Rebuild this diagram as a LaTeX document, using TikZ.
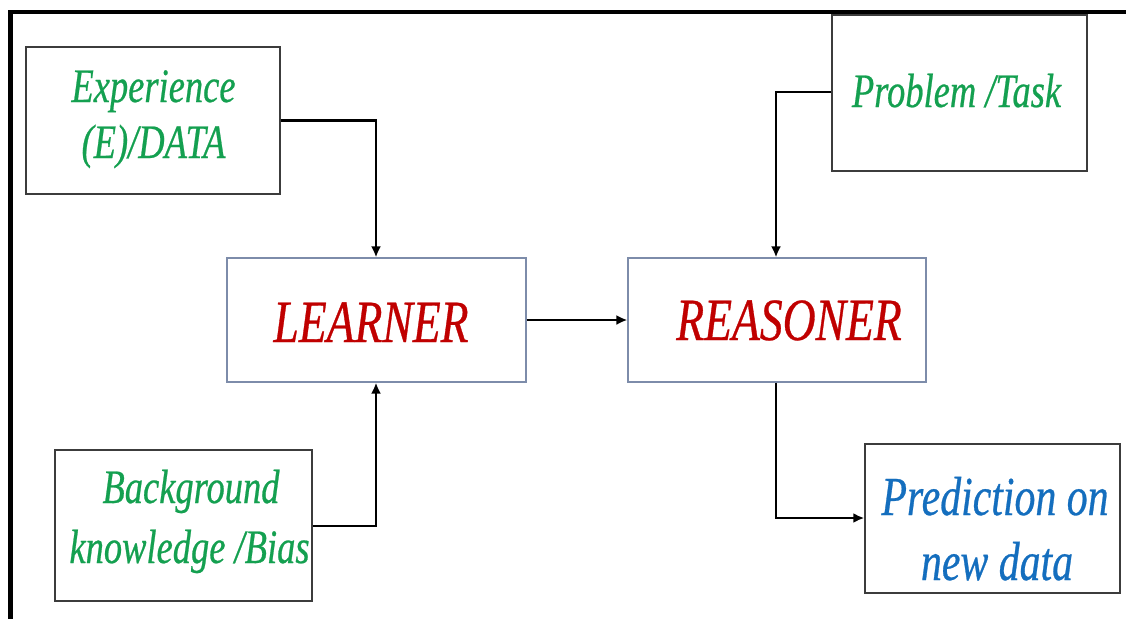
\documentclass[tikz,border=0pt]{standalone}
\usepackage{fontspec}
\usetikzlibrary{arrows.meta}
\newfontfamily\dfont[FakeStretch=0.76,FakeBold=0.5]{Liberation Serif}
\definecolor{tgreen}{RGB}{20,160,80}
\definecolor{tred}{RGB}{192,0,0}
\definecolor{tblue}{RGB}{20,110,190}
\definecolor{boxgray}{RGB}{60,60,60}
\definecolor{boxblue}{RGB}{125,140,170}
\tikzset{
  box/.style={draw=boxgray, line width=1.4pt, inner sep=0pt, fill=white},
  mainbox/.style={draw=boxblue, line width=1.2pt, inner sep=0pt, fill=white},
  txt/.style={anchor=base, inner sep=0pt, font=\dfont\itshape},
  gtxt/.style={txt, text=tgreen, font=\dfont\itshape\fontsize{48}{56}\selectfont},
  rtxt/.style={txt, text=tred, font=\dfont\itshape\fontsize{60}{70}\selectfont},
  btxt/.style={txt, text=tblue, font=\dfont\itshape\fontsize{55}{64}\selectfont},
  conn/.style={draw=black, line width=2.8pt, -{Latex[length=11pt,width=10pt]}},
}
\begin{document}
\begin{tikzpicture}[x=1pt,y=-1pt]
\useasboundingbox (0,0) rectangle (1126,619);
% frame
\draw[line width=4.5pt, line join=miter] (1126,12) -- (10.5,12) -- (10.5,619);
% boxes
\node[box, minimum width=254pt, minimum height=147pt] (exp) at (153,120.5) {};
\node[box, minimum width=255pt, minimum height=156pt] (prob) at (959.5,93) {};
\node[box, minimum width=257pt, minimum height=151pt] (bg) at (183.5,525.5) {};
\node[box, minimum width=255pt, minimum height=149pt] (pred) at (992.5,518.5) {};
\node[mainbox, minimum width=299pt, minimum height=124pt] (learn) at (376.5,320) {};
\node[mainbox, minimum width=298pt, minimum height=124pt] (reas) at (777,320) {};
% texts
\node[gtxt] (t1) at (153.5,102) {Experience};
\node[gtxt] (t2) at (153.5,158) {(E)/DATA};
\node[gtxt] (t3) at (956.5,107) {Problem /Task};
\node[gtxt] (t4) at (191,503) {Background};
\node[gtxt] (t5) at (189.5,563) {knowledge /Bias};
\node[rtxt] (t6) at (371,342) {LEARNER};
\node[rtxt] (t7) at (789,340) {REASONER};
\node[btxt] (t8) at (995,515) {Prediction on};
\node[btxt] (t9) at (997,580) {new data};
% connectors
\coordinate (c1) at (376,120.5);
\coordinate (c2) at (376,526);
\coordinate (c3) at (776,92);
\coordinate (c4) at (776,518);
\draw[conn] (exp.east |- c1) -- (c1) -- (learn.north -| c1);
\draw[conn] (bg.east |- c2) -- (c2) -- (learn.south -| c2);
\draw[conn] (learn.east) -- (reas.west);
\draw[conn] (prob.west |- c3) -- (c3) -- (reas.north -| c3);
\draw[conn] (reas.south -| c4) -- (c4) -- (pred.west |- c4);
\end{tikzpicture}
\end{document}
